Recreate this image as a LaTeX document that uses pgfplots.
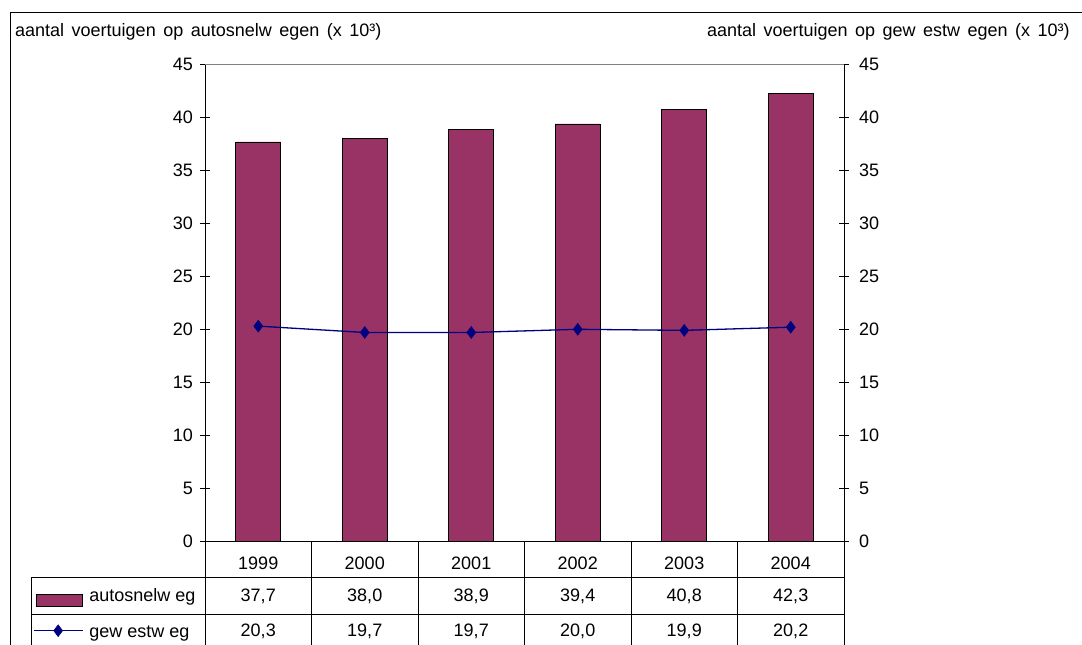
\documentclass[border=0pt]{standalone}
\usepackage{fontspec}
\setmainfont{Liberation Sans}
\usepackage{pgfplots}
\usepackage{pgfplotstable}
\pgfplotsset{compat=1.18}
\definecolor{barc}{HTML}{993366}
\definecolor{linec}{HTML}{000080}
\pgfplotstableread{
x a g
0 37.7 20.3
1 38.0 19.7
2 38.9 19.7
3 39.4 20.0
4 40.8 19.9
5 42.3 20.2
}\data
\begin{document}
\begin{tikzpicture}[font=\fontsize{18}{21.6}\selectfont]
\path[use as bounding box] (0pt,0pt) rectangle (1082pt,645pt);
\clip (0pt,0pt) rectangle (1082pt,645pt);
% outer frame
\draw[line width=1pt] (10.5pt,-2pt) -- (10.5pt,632.5pt) -- (1084pt,632.5pt);
% table grid
\foreach \i in {0,...,6} {\draw[line width=0.8pt] ({205pt+\i*106.5pt},104pt) -- ({205pt+\i*106.5pt},-2pt);}
\draw[line width=0.8pt] (31pt,67.3pt) -- (844pt,67.3pt);
\draw[line width=0.8pt] (31pt,31pt) -- (844pt,31pt);
\draw[line width=0.8pt] (31pt,67.3pt) -- (31pt,-2pt);
% titles
\node[anchor=base west, inner sep=0pt] at (15pt,608.5pt) {\spaceskip=7.5pt aantal voertuigen op autosnelw egen (x 10³)};
\node[anchor=base east, inner sep=0pt] at (1070pt,608.5pt) {\spaceskip=7.5pt aantal voertuigen op gew estw egen (x 10³)};

\begin{axis}[at={(205pt,104pt)}, anchor=south west, scale only axis,
  width=639pt, height=476.3pt, xmin=-0.5, xmax=5.5, ymin=0, ymax=45, clip=false,
  axis x line*=bottom, axis y line*=left, axis line style={-, line width=0.8pt},
  ytick={0,5,...,45}, tick align=center, major tick length=10pt,
  ytick style={black, line width=0.8pt},
  xtick={0,...,5}, xticklabels={1999,2000,2001,2002,2003,2004},
  xtick style={draw=none},
  xticklabel style={anchor=base, inner sep=0pt, yshift=-23.3pt},
  yticklabel style={anchor=east, inner sep=0pt, xshift=-7pt},
  /pgf/number format/assume math mode=true,
  legend style={at={(-0.26917,-0.07705)}, anchor=north west, draw=none, fill=none,
    inner sep=0pt, outer sep=0pt, row sep=0pt, column sep=6pt,
    cells={anchor=base west},
    nodes={inner sep=0pt, text height=24pt, text depth=12pt}},
  ]
\addplot[ybar, bar width=45pt, fill=barc, draw=black, line width=0.8pt, forget plot]
  table[x=x, y=a] {\data};
\addplot[linec, line width=1.3pt, mark=diamond*, mark size=5.9pt,
  mark options={solid, fill=linec, line width=0.6pt}, forget plot]
  table[x=x, y=g] {\data};
\addplot[draw=none, mark=none, forget plot, point meta=\thisrow{a},
  nodes near coords={\pgfmathprintnumber[fixed,fixed zerofill,precision=1,use comma,assume math mode=true]{\pgfplotspointmeta}},
  every node near coord/.append style={anchor=base, inner sep=0pt}]
  table[x=x, y expr=-5.735] {\data};
\addplot[draw=none, mark=none, forget plot, point meta=\thisrow{g},
  nodes near coords={\pgfmathprintnumber[fixed,fixed zerofill,precision=1,use comma,assume math mode=true]{\pgfplotspointmeta}},
  every node near coord/.append style={anchor=base, inner sep=0pt}]
  table[x=x, y expr=-9.042] {\data};
\addlegendimage{legend image code/.code={\draw[fill=barc, draw=black, line width=0.8pt] (3pt,-4.7pt) rectangle (49pt,7pt);}}
\addlegendentry{autosnelw eg}
\addlegendimage{legend image code/.code={\draw[linec, line width=1.3pt, mark=diamond*, mark size=5.9pt, mark options={fill=linec, line width=0.6pt}, mark repeat=2, mark phase=2] plot coordinates {(0pt,7pt) (24.5pt,7pt) (49pt,7pt)};}}
\addlegendentry{gew estw eg}
\end{axis}

\begin{axis}[at={(205pt,104pt)}, anchor=south west, scale only axis,
  width=639pt, height=476.3pt, xmin=-0.5, xmax=5.5, ymin=0, ymax=45,
  axis x line*=top, axis y line*=right, axis line style={-, line width=0.8pt},
  x axis line style={draw=gray},
  xtick=\empty, ytick={0,5,...,45}, tick align=center, major tick length=10pt,
  ytick style={black, line width=0.8pt},
  yticklabel style={anchor=west, inner sep=0pt, xshift=10pt},
  /pgf/number format/assume math mode=true]
\addplot[draw=none, mark=none] coordinates {(0,0)};
\end{axis}
\end{tikzpicture}
\end{document}
